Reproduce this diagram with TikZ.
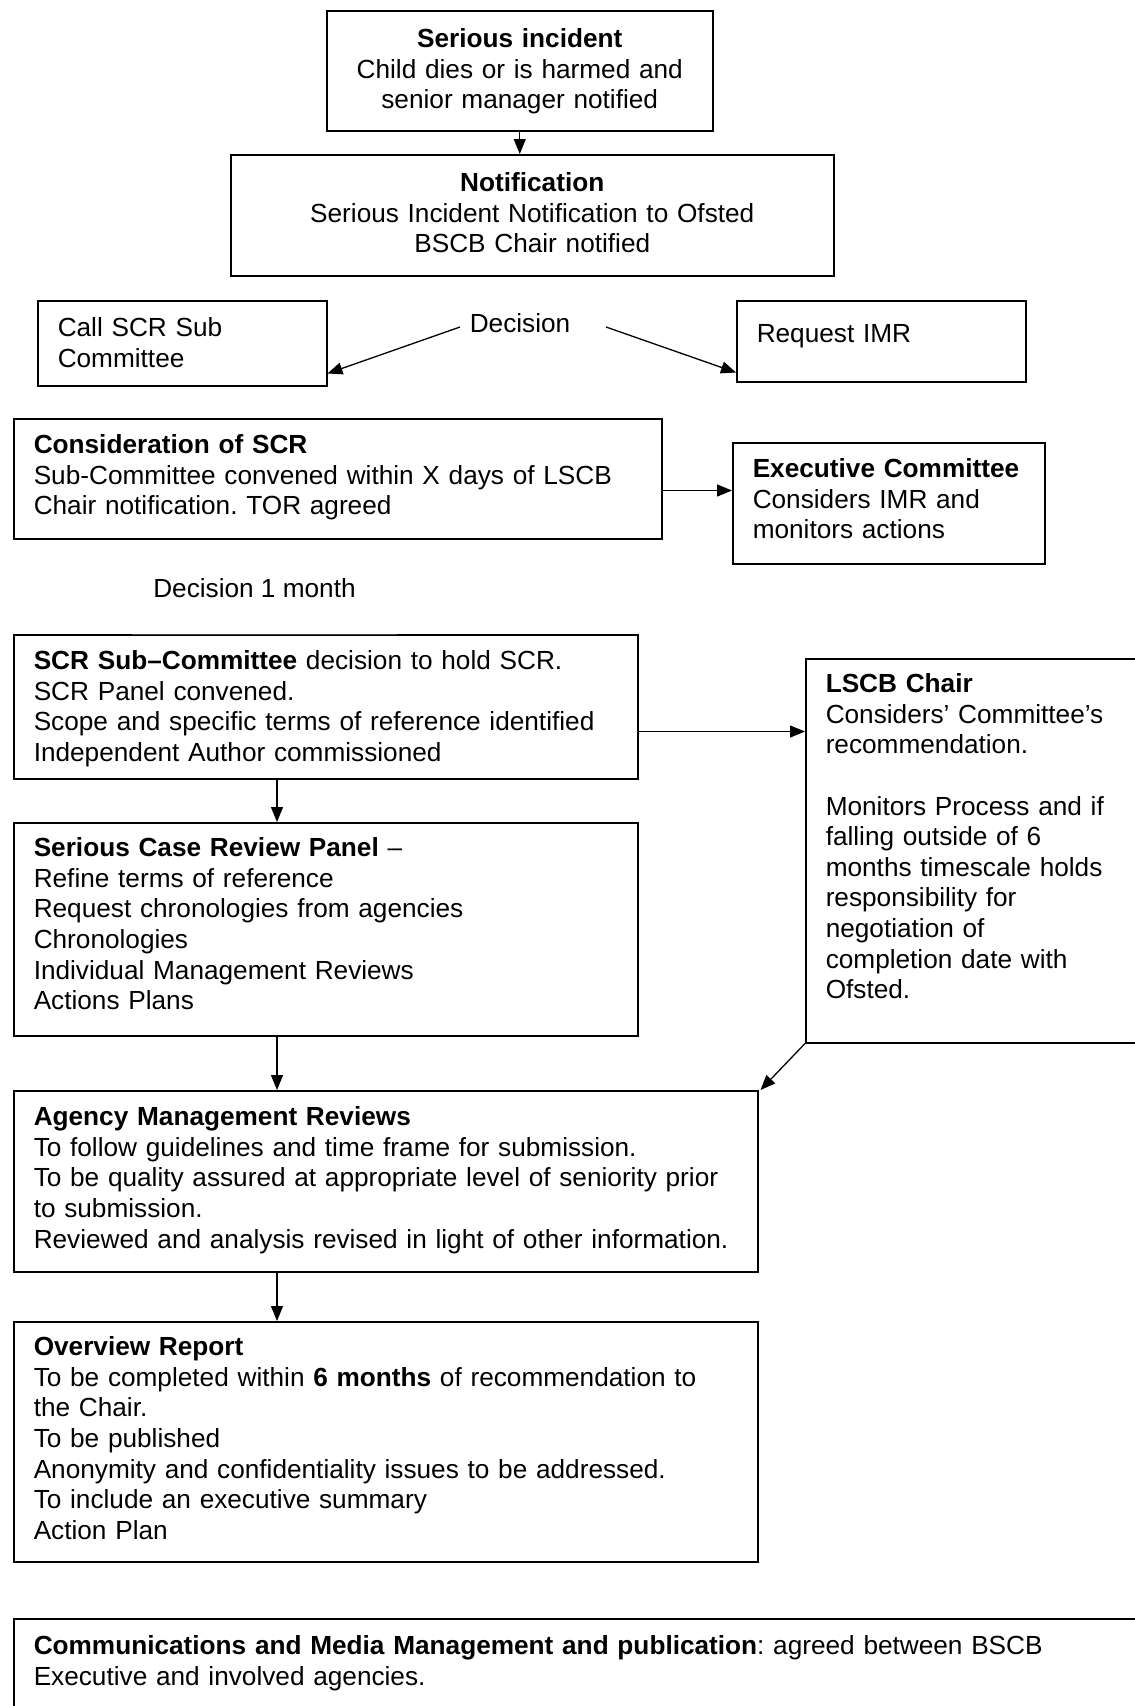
\documentclass[tikz,border=0pt]{standalone}
\usepackage{fontspec}
\setmainfont{Liberation Sans}
\usetikzlibrary{arrows.meta,calc}
\frenchspacing
\begin{document}
\begin{tikzpicture}[x=1pt,y=-1pt,
  box/.style={draw=black,line width=1.5pt,inner xsep=20pt,inner ysep=0pt,
    font=\fontsize{26.2}{30.6}\selectfont,align=left,anchor=north west,text height=35pt},
  cbox/.style={box,align=center},
  lbl/.style={font=\fontsize{26.2}{30.6}\selectfont,inner sep=0pt},
  arr/.style={line width=1.3pt,-{Triangle[length=15pt,width=12pt]}}]
\useasboundingbox (0,0) rectangle (1135,1706);
\clip (0,0) rectangle (1135,1706);

\node[cbox,text width=346pt,text height=37pt,text depth=83pt] (inc) at (326,10)
  {\textbf{Serious incident}\\Child dies or is harmed and\\senior manager notified};
\node[cbox,text width=563pt,text height=37pt,text depth=84pt] (notif) at (230,154)
  {\textbf{Notification}\\Serious Incident Notification to Ofsted\\BSCB Chair notified};
\node[box,text width=249pt,text height=36pt,text depth=49pt] (callscr) at (37,300)
  {Call SCR Sub\\Committee};
\node[box,text width=249pt,text height=42pt,text depth=39pt] (reqimr) at (736,300)
  {Request IMR};
\node[lbl] (dec) at (520,323) {Decision};

\node[box,text width=608pt,text depth=85pt] (consid) at (13,418)
  {\textbf{Consideration of SCR}\\Sub-Committee convened within X days of LSCB\\Chair notification. TOR agreed};
\node[box,text width=272pt,text depth=86pt] (exec) at (732,442)
  {\mbox{\textbf{Executive Committee}}\\Considers IMR and\\monitors actions};

\node[lbl] (dec1) at (254.5,588.5) {Decision 1 month};

\node[box,text width=584pt,text depth=109pt] (scrsub) at (13,634)
  {\textbf{SCR Sub–Committee} decision to hold SCR.\\SCR Panel convened.\\Scope and specific terms of reference identified\\Independent Author commissioned};
\node[box,text width=320pt,text height=34pt,text depth=350pt] (lscb) at (805,658)
  {\textbf{LSCB Chair}\\Considers’ Committee’s\\recommendation.\\[30.6pt]Monitors Process and if\\falling outside of 6\\months timescale holds\\responsibility for\\negotiation of\\completion date with\\Ofsted.};

\node[box,text width=584pt,text height=34pt,text depth=179pt] (panel) at (13,822)
  {\textbf{Serious Case Review Panel} –\\Refine terms of reference\\Request chronologies from agencies\\Chronologies\\Individual Management Reviews\\Actions Plans};

\node[box,text width=704pt,text depth=146pt] (amr) at (13,1090)
  {\textbf{Agency Management Reviews}\\To follow guidelines and time frame for submission.\\\mbox{To be quality assured at appropriate level of seniority prior}\\to submission.\\\mbox{Reviewed and analysis revised in light of other information.}};

\node[box,text width=704pt,text height=34pt,text depth=206pt] (overview) at (13,1321)
  {\textbf{Overview Report}\\\mbox{To be completed within \textbf{6 months} of recommendation to}\\the Chair.\\To be published\\Anonymity and confidentiality issues to be addressed.\\To include an executive summary\\Action Plan};

\node[box,text width=1120pt,text height=36pt,text depth=114pt] (comm) at (13,1618)
  {\textbf{Communications and Media Management and publication}: agreed between BSCB\\Executive and involved agencies.};

% thinner segment on top edge of SCR Sub-Committee box
\draw[white,line width=2.6pt] (132,634) -- (397,634);
\draw[black!75,line width=0.9pt] (132,634) -- (397,634);

% connectors
\draw[arr] (inc.south) -- (inc.south |- notif.north);
\coordinate (dL) at (460,327);
\coordinate (dR) at (606,327);
\draw[arr] (dL) -- ($(callscr.south east)+(0,-13)$);
\draw[arr] (dR) -- ($(reqimr.south west)+(0,-10)$);
\draw[arr] ($(consid.south east)+(0,-49)$) coordinate (c1) -- (c1 -| exec.west);
\draw[arr] ($(scrsub.south east)+(0,-48)$) coordinate (c2) -- (c2 -| lscb.west);
\draw[arr] ($(scrsub.south west)+(264,0)$) coordinate (c3) -- (c3 |- panel.north);
\draw[arr] ($(panel.south west)+(264,0)$) coordinate (c4) -- (c4 |- amr.north);
\draw[arr] (lscb.south west) -- ($(amr.north east)+(2,0)$);
\draw[arr] ($(amr.south west)+(264,0)$) coordinate (c5) -- (c5 |- overview.north);
\end{tikzpicture}
\end{document}
